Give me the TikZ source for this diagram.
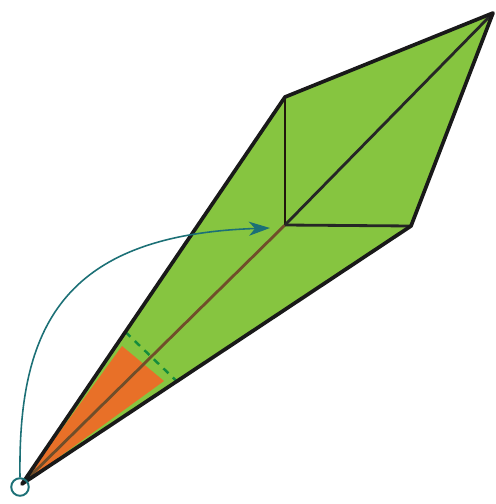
\documentclass[tikz,border=0pt]{standalone}
\usetikzlibrary{arrows.meta,calc}

\definecolor{leafgreen}{RGB}{134,197,64}
\definecolor{foldorange}{RGB}{232,112,40}
\definecolor{creasebrown}{RGB}{112,78,42}
\definecolor{dashgreen}{RGB}{20,140,60}
\definecolor{turnteal}{RGB}{28,112,118}

\begin{document}
\begin{tikzpicture}[
  x=0.02cm,y=-0.02cm,
  outline/.style={line width=2.1pt, line join=round, black!90},
  crease/.style={line width=1.6pt, black!85},
  midcrease/.style={line width=1.6pt, creasebrown},
  foldline/.style={line width=1.4pt, dashgreen, dash pattern=on 4pt off 3.5pt},
  pivot/.style={circle, draw=turnteal, line width=1.1pt, minimum size=10pt, inner sep=0pt},
  turn/.style={-{Stealth[length=12pt,width=8pt,inset=3.5pt]}, line width=0.9pt, turnteal}
]
\useasboundingbox (0,0) rectangle (495,504);

% corners of the folded kite
\coordinate (T) at (22,484);
\coordinate (L) at (285,97);
\coordinate (R) at (493,13);
\coordinate (M) at (411,226);
\coordinate (C) at (285,225);

% ends of the fold line on the two long edges
\coordinate (F1) at ($(T)!0.393!(L)$);
\coordinate (F2) at ($(T)!0.398!(M)$);

\fill[leafgreen] (T) -- (L) -- (R) -- (M) -- cycle;
\fill[foldorange] (T) -- (122,346) -- (164,381) -- cycle;
\draw[foldline] (F1) -- (F2);

\draw[midcrease] (T) -- (C);
\draw[crease, black!70!creasebrown] (L) -- (C);
\draw[crease] (C) -- (M);
\draw[crease] (C) -- (R);
\draw[outline] (T) -- (L) -- (R) -- (M) -- cycle;

\node[pivot] (P) at (20,487) {};
\coordinate (A) at (270,228);
\draw[turn] (P.north) .. controls (18,330) and (60,235) .. (A);
\end{tikzpicture}
\end{document}
